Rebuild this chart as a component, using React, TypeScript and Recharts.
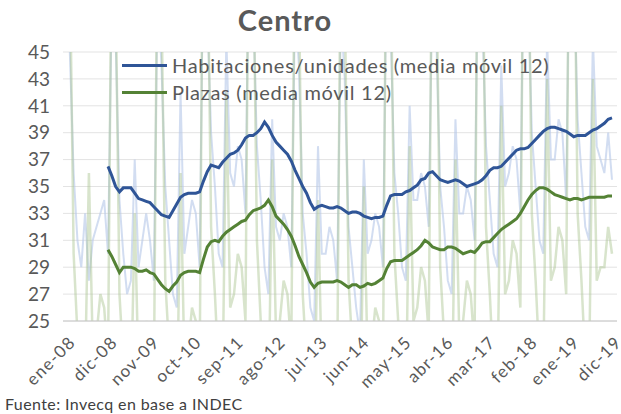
import React from "react";
import { LineChart, Line, XAxis, YAxis, CartesianGrid } from "recharts";

const meses = ["ene", "feb", "mar", "abr", "may", "jun", "jul", "ago", "sep", "oct", "nov", "dic"];
const anios = ["08", "09", "10", "11", "12", "13", "14", "15", "16", "17", "18", "19"];

// ocupación mensual, habitaciones/unidades
const habitaciones = [
  47, 45, 36, 31, 29, 33, 28, 31, 32, 33, 34, 30,
  49, 46, 34, 30, 27, 28, 37, 29, 31, 33, 31, 28,
  50, 44, 35, 31, 27, 26, 42, 30, 32, 34, 33, 29,
  54, 48, 39, 35, 30, 29, 46, 36, 35, 38, 37, 33,
  55, 49, 38, 34, 29, 27, 40, 32, 31, 33, 32, 29,
  49, 44, 33, 30, 26, 25, 38, 30, 30, 32, 31, 28,
  48, 43, 32, 29, 26, 24, 37, 30, 31, 33, 32, 29,
  53, 47, 36, 33, 29, 28, 41, 34, 34, 36, 35, 32,
  52, 46, 35, 32, 28, 27, 40, 33, 33, 35, 34, 31,
  55, 48, 38, 34, 30, 29, 44, 35, 36, 38, 37, 33,
  56, 50, 39, 35, 31, 30, 46, 37, 37, 40, 39, 34,
  57, 51, 40, 36, 32, 31, 46, 38, 37, 36, 39, 35.5,
];

// ocupación mensual, plazas
const plazas = [
  58, 52, 30, 24, 20, 21, 36, 23, 24, 27, 26, 22,
  56, 50, 27, 22, 18, 19, 33, 21, 22, 25, 24, 20,
  57, 49, 28, 23, 18, 17, 36, 22, 23, 26, 25, 21,
  63, 55, 32, 27, 21, 20, 42, 26, 27, 30, 29, 25,
  62, 54, 31, 25, 19, 18, 37, 24, 25, 28, 27, 23,
  57, 50, 27, 22, 17, 16, 34, 21, 22, 25, 24, 20,
  56, 49, 28, 23, 17, 16, 35, 22, 23, 26, 25, 21,
  61, 53, 30, 25, 19, 18, 38, 25, 26, 29, 28, 24,
  60, 52, 29, 24, 18, 17, 37, 24, 25, 28, 27, 23,
  64, 56, 32, 27, 21, 20, 41, 27, 28, 31, 30, 26,
  65, 57, 33, 28, 22, 21, 43, 28, 29, 32, 31, 27,
  66, 58, 33, 28, 22, 21, 43, 28, 29, 29, 32, 30,
];

// media móvil 12 meses (empieza en dic-08)
const habitacionesMM = [
  null, null, null, null, null, null, null, null, null, null, null, 36.5,
  35.8, 35.0, 34.6, 34.9, 34.9, 34.9, 34.5, 34.1, 34.0, 33.9, 33.8, 33.5,
  33.2, 32.9, 32.8, 32.7, 33.2, 33.7, 34.2, 34.4, 34.5, 34.5, 34.5, 34.6,
  35.4, 36.1, 36.6, 36.5, 36.4, 36.8, 37.1, 37.4, 37.5, 37.7, 38.1, 38.6,
  38.8, 38.8, 39.0, 39.3, 39.8, 39.4, 38.8, 38.3, 38.0, 37.7, 37.4, 36.9,
  36.2, 35.6, 35.0, 34.5, 33.8, 33.3, 33.5, 33.6, 33.5, 33.4, 33.4, 33.5,
  33.4, 33.2, 33.0, 33.1, 33.1, 33.0, 32.8, 32.7, 32.6, 32.7, 32.7, 32.8,
  33.6, 34.3, 34.4, 34.4, 34.4, 34.6, 34.7, 34.9, 35.1, 35.5, 35.6, 36.0,
  36.1, 35.8, 35.5, 35.4, 35.3, 35.4, 35.5, 35.4, 35.2, 35.0, 35.1, 35.2,
  35.3, 35.5, 35.8, 36.2, 36.4, 36.4, 36.5, 36.8, 37.1, 37.4, 37.7, 37.8,
  37.8, 37.9, 38.2, 38.5, 38.8, 39.1, 39.3, 39.4, 39.4, 39.3, 39.2, 39.1,
  38.9, 38.7, 38.8, 38.8, 38.8, 39.0, 39.2, 39.3, 39.5, 39.7, 40.0, 40.1,
];

const plazasMM = [
  null, null, null, null, null, null, null, null, null, null, null, 30.3,
  29.8, 29.2, 28.6, 29.0, 29.0, 29.0, 28.9, 28.7, 28.7, 28.8, 28.6, 28.5,
  28.1, 27.7, 27.4, 27.2, 27.6, 27.9, 28.4, 28.6, 28.7, 28.7, 28.7, 28.6,
  29.6, 30.5, 30.9, 31.0, 30.9, 31.3, 31.6, 31.8, 32.0, 32.2, 32.4, 32.5,
  32.9, 33.2, 33.3, 33.4, 33.6, 34.0, 33.5, 32.8, 32.5, 32.2, 31.8, 31.3,
  30.6, 29.8, 29.2, 28.6, 27.9, 27.5, 27.8, 27.9, 27.9, 27.9, 27.9, 28.0,
  27.9, 27.7, 27.5, 27.7, 27.7, 27.5, 27.6, 27.8, 27.7, 27.8, 28.0, 28.2,
  28.9, 29.4, 29.5, 29.5, 29.5, 29.7, 29.9, 30.1, 30.3, 30.6, 31.0, 30.8,
  30.5, 30.4, 30.3, 30.3, 30.5, 30.5, 30.4, 30.2, 30.0, 30.1, 30.2, 30.1,
  30.4, 30.8, 30.9, 30.9, 31.2, 31.5, 31.8, 32.0, 32.2, 32.4, 32.6, 33.0,
  33.5, 34.0, 34.4, 34.7, 34.9, 34.9, 34.8, 34.6, 34.4, 34.3, 34.2, 34.1,
  34.0, 34.1, 34.1, 34.0, 34.1, 34.2, 34.2, 34.2, 34.2, 34.2, 34.3, 34.3,
];

const yTicks = [25, 27, 29, 31, 33, 35, 37, 39, 41, 43, 45];

const fecha = anios.flatMap((a) => meses.map((m) => `${m}-${a}`));
const data = fecha.map((f, i) => ({
  fecha: f,
  hab: habitaciones[i],
  pla: plazas[i],
  habMM: habitacionesMM[i],
  plaMM: plazasMM[i],
}));

const FONT = "Lato, 'Open Sans', sans-serif";
const GRIS = "#595959";

const TickFecha = (props: any) => {
  const { x, y, payload } = props;
  return (
    <g transform={`translate(${x + 2},${y + 6})`}>
      <text
        transform="rotate(-45)"
        textAnchor="end"
        dy={12}
        fontSize={17}
        letterSpacing={1.2}
        fontFamily={FONT}
        fill={GRIS}
      >
        {payload.value}
      </text>
    </g>
  );
};

const leyenda = [
  { label: "Habitaciones/unidades (media móvil 12)", color: "#2f5597" },
  { label: "Plazas (media móvil 12)", color: "#548235" },
];

export default function App() {
  return (
    <div
      style={{
        position: "absolute",
        left: 0,
        top: 0,
        width: 621,
        height: 414,
        background: "#fff",
        fontFamily: FONT,
      }}
    >
      <div
        style={{
          position: "absolute",
          top: 2,
          left: 0,
          width: 570,
          textAlign: "center",
          fontSize: 29,
          letterSpacing: 1,
          fontWeight: 700,
          color: GRIS,
        }}
      >
        Centro
      </div>
      <LineChart
        width={621}
        height={414}
        data={data}
        margin={{ top: 52, right: 4, bottom: 33, left: 0 }}
      >
        <CartesianGrid vertical={false} stroke="#e3e3e3" />
        <XAxis
          dataKey="fecha"
          interval={10}
          tick={<TickFecha />}
          tickLine={false}
          axisLine={{ stroke: "#c8c8c8" }}
          height={60}
          padding={{ left: 3, right: 5 }}
        />
        <YAxis
          domain={[25, 45]}
          ticks={yTicks}
          interval={0}
          allowDataOverflow
          width={63}
          tickLine={false}
          axisLine={false}
          tickSize={0}
          tickMargin={13}
          tick={{ fontSize: 19, fill: GRIS, fontFamily: FONT }}
        />
        <Line
          dataKey="hab"
          stroke="#b4c7e7"
          strokeOpacity={0.6}
          strokeWidth={2}
          dot={false}
          isAnimationActive={false}
        />
        <Line
          dataKey="pla"
          stroke="#a9c48f"
          strokeOpacity={0.45}
          strokeWidth={2.5}
          dot={false}
          isAnimationActive={false}
        />
        <Line
          dataKey="habMM"
          stroke="#2f5597"
          strokeWidth={3}
          dot={false}
          isAnimationActive={false}
        />
        <Line
          dataKey="plaMM"
          stroke="#548235"
          strokeWidth={3}
          dot={false}
          isAnimationActive={false}
        />
      </LineChart>
      <div
        style={{
          position: "absolute",
          left: 122,
          top: 52,
          fontSize: 20,
          letterSpacing: 0.7,
          color: GRIS,
          lineHeight: "27px",
          whiteSpace: "nowrap",
        }}
      >
        {leyenda.map((it) => (
          <div key={it.label} style={{ display: "flex", alignItems: "center" }}>
            <span
              style={{
                display: "inline-block",
                width: 45,
                height: 3,
                background: it.color,
                marginRight: 5,
              }}
            />
            {it.label}
          </div>
        ))}
      </div>
      <div
        style={{
          position: "absolute",
          left: 5,
          top: 394,
          fontSize: 16,
          letterSpacing: 0.4,
          color: "#404040",
        }}
      >
        Fuente: Invecq en base a INDEC
      </div>
    </div>
  );
}
